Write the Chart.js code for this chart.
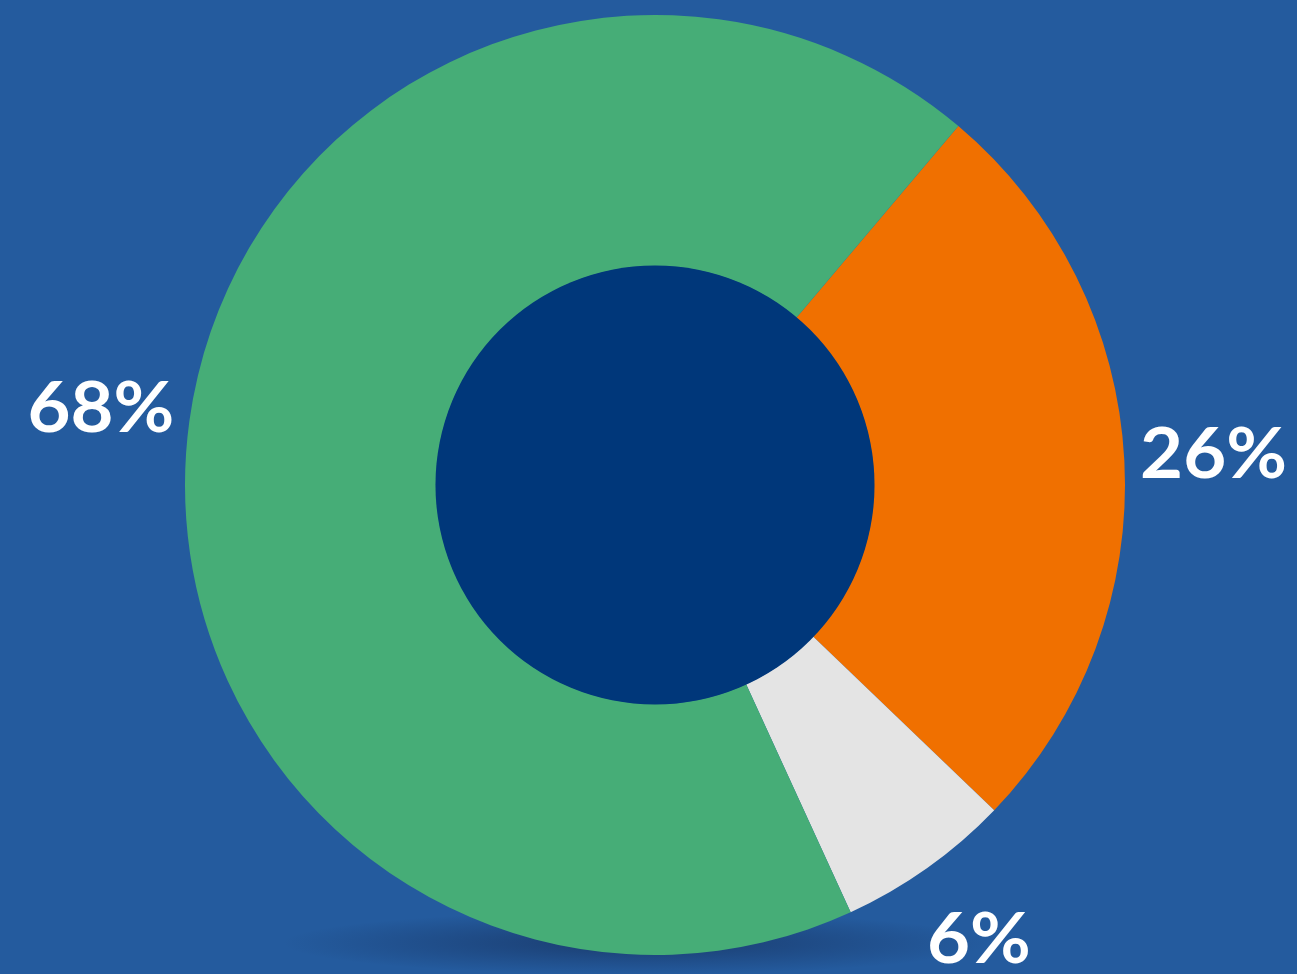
<!DOCTYPE html>
<html><head><meta charset="utf-8">
<script src="https://cdn.jsdelivr.net/npm/chart.js@4/dist/chart.umd.min.js"></script>
<style>html,body{margin:0;padding:0;background:#245b9e;overflow:hidden}#wrap{width:1297px;height:974px;position:relative}</style>
</head><body><div id="wrap"><canvas id="c" width="1297" height="974"></canvas></div>
<script>
const categories = ['A', 'B', 'C'];
const values = [26, 6, 68];
const valueLabels = ['26%', '6%', '68%'];
const colors = ['#f07000', '#e4e4e4', '#46ad77'];

const bgPlugin = {
  id: 'bg',
  beforeDraw(chart) {
    const ctx = chart.ctx;
    ctx.save();
    ctx.fillStyle = '#245b9e';
    ctx.fillRect(0, 0, chart.width, chart.height);
    const meta = chart.getDatasetMeta(0);
    const a = meta.data[0];
    if (a) {
      const cx = a.x, cy = a.y, r = a.outerRadius;
      ctx.translate(cx - 20, cy + r - 12);
      ctx.scale(1, 0.09);
      const g = ctx.createRadialGradient(0, 0, 0, 0, 0, r * 0.75);
      g.addColorStop(0, 'rgba(20,40,80,0.6)');
      g.addColorStop(1, 'rgba(20,40,80,0)');
      ctx.fillStyle = g;
      ctx.beginPath();
      ctx.arc(0, 0, r * 0.75, 0, Math.PI * 2);
      ctx.fill();
    }
    ctx.restore();
  },
  afterDatasetsDraw(chart) {
    const ctx = chart.ctx;
    const meta = chart.getDatasetMeta(0);
    const a0 = meta.data[0];
    ctx.save();
    ctx.fillStyle = '#00377a';
    ctx.beginPath();
    ctx.arc(a0.x, a0.y, a0.innerRadius + 0.5, 0, Math.PI * 2);
    ctx.fill();
    ctx.fillStyle = '#ffffff';
    ctx.font = 'bold 70px Lato, "Open Sans", sans-serif';
    ctx.textAlign = 'center';
    ctx.textBaseline = 'middle';
    meta.data.forEach((arc, i) => {
      const mid = (arc.startAngle + arc.endAngle) / 2;
      const rr = arc.outerRadius * 1.19;
      ctx.save();
      ctx.translate(arc.x + Math.cos(mid) * rr, arc.y + Math.sin(mid) * rr);
      ctx.scale(1.06, 1);
      ctx.fillText(valueLabels[i], 0, 0);
      ctx.restore();
    });
    ctx.restore();
  }
};

new Chart(document.getElementById('c'), {
  type: 'doughnut',
  data: {
    labels: categories,
    datasets: [{ data: values, backgroundColor: colors, borderWidth: 0, hoverOffset: 0 }]
  },
  options: {
    responsive: false,
    animation: false,
    rotation: 40.2,
    cutout: '46.6%',
    layout: { padding: { left: 185, right: 172, top: 15, bottom: 19 } },
    plugins: { legend: { display: false }, tooltip: { enabled: false } }
  },
  plugins: [bgPlugin]
});
</script></body></html>
